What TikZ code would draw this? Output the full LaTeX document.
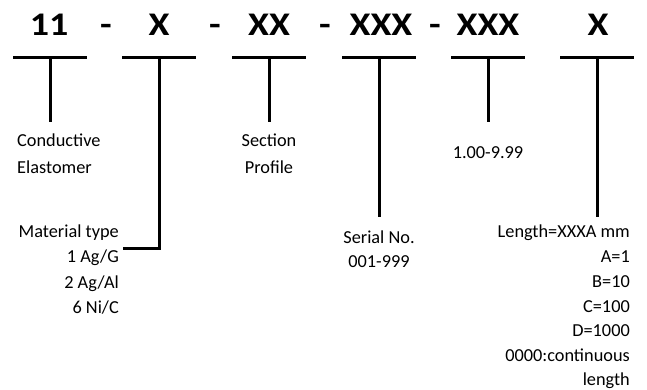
\documentclass[tikz,border=0pt]{standalone}
\usepackage{graphicx}
\usepackage{fontspec}
\setmainfont{Carlito}
\newcommand{\hdrtext}[1]{\scalebox{1.15}[1]{#1}}
\begin{document}
\begin{tikzpicture}[x=1pt,y=-1pt,
  hdr/.style={font=\fontsize{33}{33}\selectfont\bfseries, anchor=base, inner sep=0pt},
  lbl/.style={font=\fontsize{18.3}{18}\selectfont, inner sep=0pt},
  lblc/.style={lbl, anchor=base},
  lblr/.style={lbl, anchor=base east},
  lbll/.style={lbl, anchor=base west},
  ln/.style={line width=3pt}]
\useasboundingbox (0,0) rectangle (647,390);
% header
\node[hdr] (h1) at (49,36) {\hdrtext{11}};
\node[hdr] (d1) at (106,36) {\hdrtext{-}};
\node[hdr] (h2) at (159,36) {\hdrtext{X}};
\node[hdr] (d2) at (215,36) {\hdrtext{-}};
\node[hdr] (h3) at (269,36) {\hdrtext{XX}};
\node[hdr] (d3) at (325,36) {\hdrtext{-}};
\node[hdr] (h4) at (381,36) {\hdrtext{XXX}};
\node[hdr] (d4) at (435,36) {\hdrtext{-}};
\node[hdr] (h5) at (488,36) {\hdrtext{XXX}};
\node[hdr] (h6) at (598,36) {\hdrtext{X}};
% bars
\foreach \c/\n in {50/1,159/2,269/3,379/4,488/5,597/6}{
  \coordinate (b\n) at (\c,58);
  \draw[ln] ([xshift=-37pt]b\n) -- ([xshift=37pt]b\n);
}
\coordinate (e1) at (50,122);
\coordinate (e2) at (159,248);
\coordinate (e2l) at (123,248);
\coordinate (e3) at (269,122);
\coordinate (e4) at (379,217);
\coordinate (e5) at (488,122);
\coordinate (e6) at (597,217);
\draw[ln] (b1) -- (e1);
\draw[ln] (b2) -- (e2) -- (e2l);
\draw[ln] (b3) -- (e3);
\draw[ln] (b4) -- (e4);
\draw[ln] (b5) -- (e5);
\draw[ln] (b6) -- (e6);
% labels
\node[lbll] (t1a) at (17,147) {Conductive};
\node[lbll] (t1b) at (17,173) {Elastomer};
\node[lblr] (t2a) at (119,237) {Material type};
\node[lblr] (t2b) at (119,262) {1 Ag/G};
\node[lblr] (t2c) at (119,288) {2 Ag/Al};
\node[lblr] (t2d) at (119,313) {6 Ni/C};
\node[lblc] (t3a) at (269,147) {Section};
\node[lblc] (t3b) at (269,173) {Profile};
\node[lblc] (t4a) at (379,243) {Serial No.};
\node[lblc] (t4b) at (379,267) {001-999};
\node[lblc] (t5a) at (488,159) {1.00-9.99};
\node[lblr] (t6a) at (630,237) {Length=XXXA mm};
\node[lblr] (t6b) at (630,262) {A=1};
\node[lblr] (t6c) at (630,287) {B=10};
\node[lblr] (t6d) at (630,312) {C=100};
\node[lblr] (t6e) at (630,336) {D=1000};
\node[lblr] (t6f) at (630,361) {0000:continuous};
\node[lblr] (t6g) at (630,385) {length};
\end{tikzpicture}
\end{document}
